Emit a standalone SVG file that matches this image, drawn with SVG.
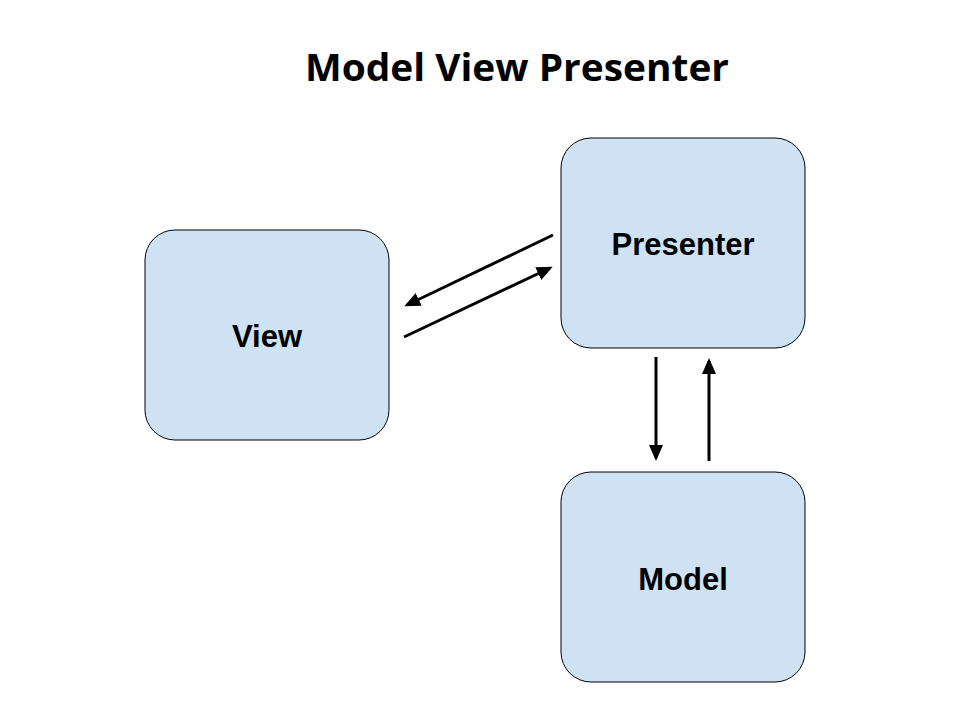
<svg xmlns="http://www.w3.org/2000/svg" width="960" height="720" viewBox="0 0 960 720">
  <style>
    .node { fill: #cfe2f3; stroke: #000000; stroke-width: 1; }
    .label { font-family: "Liberation Sans", Arial, sans-serif; font-weight: bold; font-size: 31px; fill: #000000; text-anchor: middle; }
    .title { font-family: "Open Sans", "DejaVu Sans", sans-serif; font-weight: bold; font-size: 37px; fill: #000000; }
    .edge { stroke: #000000; stroke-width: 3; fill: none; marker-end: url(#arrow); }
  </style>
  <defs>
    <!-- filled triangular head, sized in user units -->
    <marker id="arrow" viewBox="0 0 16 14" refX="13" refY="7" markerWidth="16" markerHeight="14" markerUnits="userSpaceOnUse" orient="auto">
      <path d="M0,0 L16,7 L0,14 Z" fill="#000000"/>
    </marker>
  </defs>

  <rect width="960" height="720" fill="#ffffff"/>

  <text class="title" x="305" y="81" textLength="424" lengthAdjust="spacingAndGlyphs">Model View Presenter</text>

  <g id="view">
    <rect class="node" x="145" y="230" width="244" height="210" rx="30" ry="30"/>
    <text class="label" x="267" y="347">View</text>
  </g>

  <g id="presenter">
    <rect class="node" x="561" y="138" width="244" height="210" rx="30" ry="30"/>
    <text class="label" x="683" y="255">Presenter</text>
  </g>

  <g id="model">
    <rect class="node" x="561" y="472" width="244" height="210" rx="30" ry="30"/>
    <text class="label" x="683" y="590">Model</text>
  </g>

  <g id="connectors">
    <line class="edge" x1="553" y1="235" x2="407" y2="305"/>
    <line class="edge" x1="404" y1="337" x2="550" y2="268"/>
    <line class="edge" x1="656" y1="357" x2="656" y2="458"/>
    <line class="edge" x1="709" y1="461" x2="709" y2="361"/>
  </g>
</svg>
